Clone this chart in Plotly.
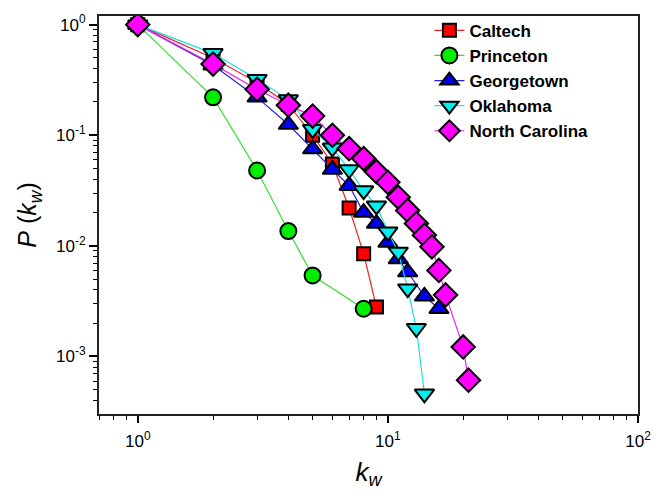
import plotly.graph_objects as go

names = ["Caltech", "Princeton", "Georgetown", "Oklahoma", "North Carolina"]

caltech_k = [1, 2, 3, 4, 5, 6, 7, 8, 9]
caltech_p = [1.0, 0.50, 0.30, 0.19, 0.100, 0.055, 0.022, 0.0085, 0.0028]

princeton_k = [1, 2, 3, 4, 5, 8]
princeton_p = [1.0, 0.22, 0.048, 0.0136, 0.0054, 0.0027]

georgetown_k = [1, 2, 3, 4, 5, 6, 7, 8, 9, 10, 11, 12, 14, 16]
georgetown_p = [1.0, 0.43, 0.22, 0.125, 0.075, 0.049, 0.035, 0.020, 0.0159,
                0.0107, 0.0076, 0.0058, 0.0035, 0.0027]

oklahoma_k = [1, 2, 3, 4, 5, 6, 7, 8, 9, 10, 11, 12, 13, 14]
oklahoma_p = [1.0, 0.55, 0.32, 0.21, 0.113, 0.077, 0.049, 0.0316, 0.023,
              0.0134, 0.0088, 0.0041, 0.0018, 0.00046]

ncarolina_k = [1, 2, 3, 4, 5, 6, 7, 8, 9, 10, 11, 12, 13, 14, 15, 16, 17, 20, 21]
ncarolina_p = [1.0, 0.44, 0.26, 0.187, 0.149, 0.10, 0.0756, 0.0616, 0.0468,
               0.0375, 0.0275, 0.0209, 0.0159, 0.0125, 0.0098, 0.0060, 0.0036,
               0.00122, 0.00061]

x_tick_vals = [1, 10, 100]
x_tick_text = ["10<sup>0</sup>", "10<sup>1</sup>", "10<sup>2</sup>"]
y_tick_vals = [1e-3, 1e-2, 1e-1, 1]
y_tick_text = ["10<sup>-3</sup>", "10<sup>-2</sup>", "10<sup>-1</sup>", "10<sup>0</sup>"]

series = [
    (caltech_k, caltech_p, "#ff0000", "#ee2222", "square", 13),
    (princeton_k, princeton_p, "#00ee00", "#33dd33", "circle", 16),
    (georgetown_k, georgetown_p, "#0000ee", "#2222dd", "triangle-up", 17),
    (oklahoma_k, oklahoma_p, "#00eeee", "#22dddd", "triangle-down", 17),
    (ncarolina_k, ncarolina_p, "#ff00ff", "#ee22ee", "diamond", 18),
]

fig = go.Figure()
for name, (k, p, fill, lc, sym, sz) in zip(names, series):
    fig.add_trace(go.Scatter(
        x=k, y=p, name=name, mode="lines+markers",
        line=dict(color=lc, width=1.2),
        marker=dict(symbol=sym, size=sz, color=fill,
                    line=dict(color="black", width=2)),
    ))

# minor tick positions (2..9 within each decade)
x_minor = [m * 10 ** e for e in (-1, 0, 1) for m in range(2, 10) if 0.7 <= m * 10 ** e <= 100]
y_minor = [m * 10 ** e for e in (-4, -3, -2, -1) for m in range(2, 10) if 3e-4 <= m * 10 ** e <= 1.2]

font = "Arial, Liberation Sans, sans-serif"
fig.update_layout(
    width=652, height=494,
    margin=dict(l=91, r=22, t=5, b=88),
    paper_bgcolor="white", plot_bgcolor="white",
    font=dict(family=font, color="black", size=16),
    showlegend=True,
    legend=dict(x=0.613, y=1.008, xanchor="left", yanchor="top",
                bgcolor="rgba(0,0,0,0)", tracegroupgap=0,
                font=dict(family=font, size=17, weight="bold"),
                itemwidth=30),
    xaxis=dict(type="log", range=[-0.155, 2], showgrid=False, zeroline=False,
               showline=True, linecolor="#222222", linewidth=2, mirror=True,
               ticks="outside", ticklen=7, tickwidth=1.5, tickcolor="black",
               tickvals=x_tick_vals, ticktext=x_tick_text,
               tickfont=dict(size=17), ticklabelstandoff=4,
               minor=dict(ticks="outside", ticklen=4, tickwidth=1.2, tickcolor="black",
                          tickvals=x_minor),
               title=dict(text="<i>k<sub>w</sub></i>", font=dict(size=26), standoff=12)),
    yaxis=dict(type="log", range=[-3.52, 0.078], showgrid=False, zeroline=False,
               showline=True, linecolor="#222222", linewidth=2, mirror=True,
               ticks="outside", ticklen=8, tickwidth=1.5, tickcolor="black",
               tickvals=y_tick_vals, ticktext=y_tick_text,
               tickfont=dict(size=17),
               minor=dict(ticks="outside", ticklen=4, tickwidth=1.2, tickcolor="black",
                          tickvals=y_minor),
               title=dict(text="<i>P</i> (<i>k<sub>w</sub></i>)", font=dict(size=25), standoff=12)),
)

fig.write_html("out.html")
